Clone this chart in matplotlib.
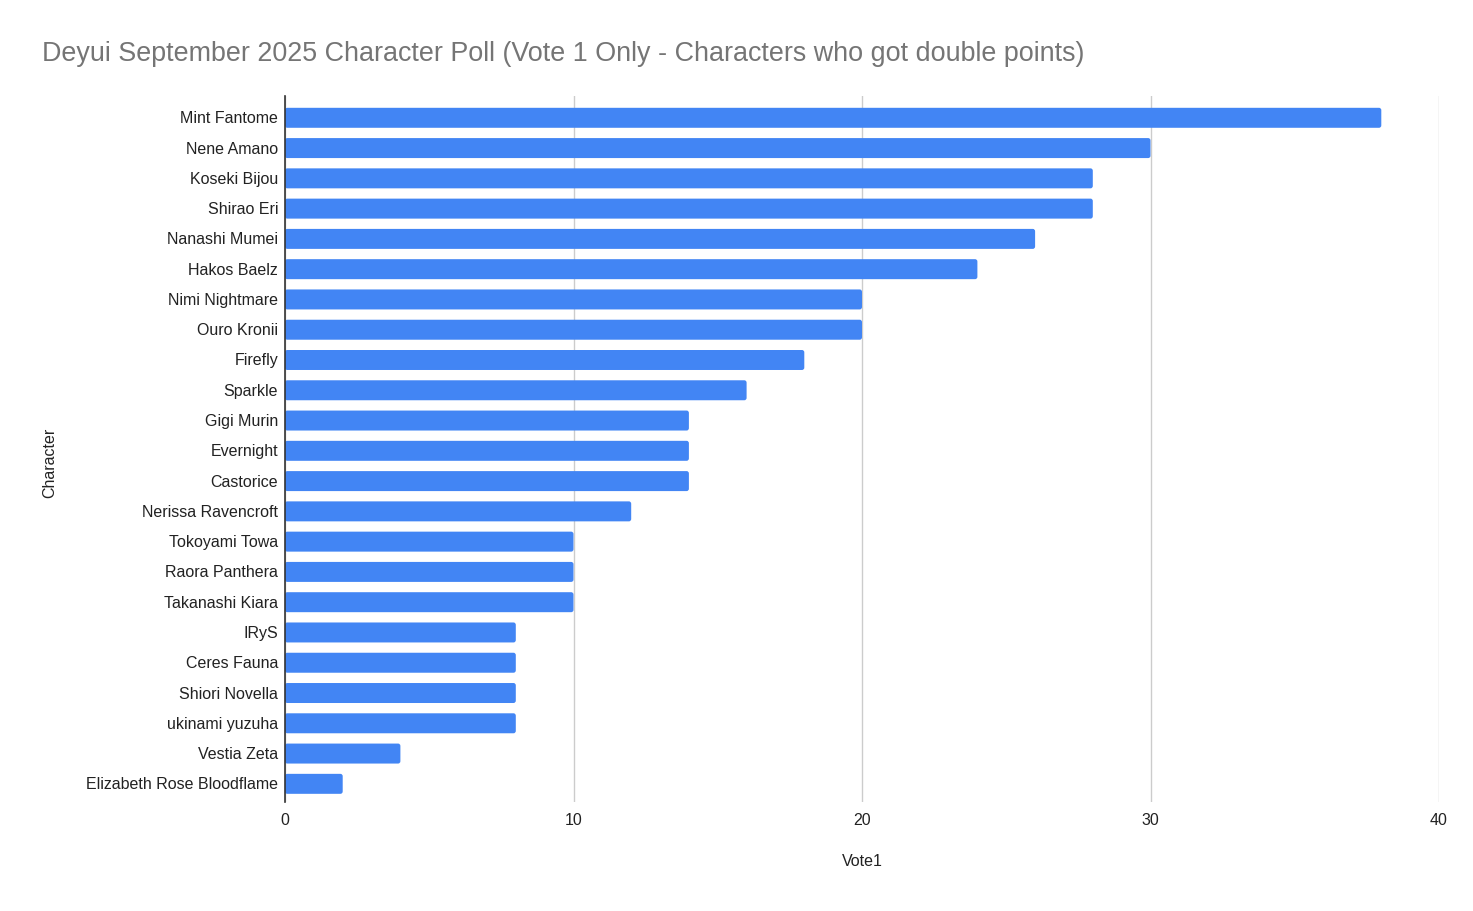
import matplotlib
matplotlib.use("Agg")
import matplotlib.pyplot as plt
from matplotlib.patches import FancyBboxPatch
from matplotlib.transforms import ScaledTranslation

characters = ["Mint Fantome", "Nene Amano", "Koseki Bijou", "Shirao Eri", "Nanashi Mumei",
              "Hakos Baelz", "Nimi Nightmare", "Ouro Kronii", "Firefly", "Sparkle",
              "Gigi Murin", "Evernight", "Castorice", "Nerissa Ravencroft", "Tokoyami Towa",
              "Raora Panthera", "Takanashi Kiara", "IRyS", "Ceres Fauna", "Shiori Novella",
              "ukinami yuzuha", "Vestia Zeta", "Elizabeth Rose Bloodflame"]
votes = [38, 30, 28, 28, 26, 24, 20, 20, 18, 16, 14, 14, 14, 12, 10, 10, 10, 8, 8, 8, 8, 4, 2]
xticks = [0, 10, 20, 30, 40]

plt.rcParams['font.family'] = ['Liberation Sans', 'DejaVu Sans']

W, H = 1473, 912
fig = plt.figure(figsize=(W/100, H/100), dpi=100)
ax = fig.add_axes([285/W, 1-803/H, (1439-285)/W, (803-97)/H])

ypos = list(range(len(characters)))
bars = ax.barh(ypos, votes, height=0.66, color="#4285F4", zorder=3)
# replace with slightly rounded bars
for b in bars:
    x0, y0 = b.get_x(), b.get_y()
    w, h = b.get_width(), b.get_height()
    b.set_visible(False)
    p = FancyBboxPatch((x0, y0), w, h, boxstyle="round,pad=0,rounding_size=0.08",
                       facecolor="#4285F4", edgecolor="none", zorder=3)
    ax.add_patch(p)

ax.set_ylim(len(characters) - 1 + 0.6, -0.72)
ax.set_xlim(0, 40)
ax.set_xticks(xticks)
ax.set_yticks(ypos)
ax.set_yticklabels(characters)
ax.tick_params(axis='both', length=0, labelsize=11.5, colors="#222222")
ax.tick_params(axis='x', pad=7)
ax.tick_params(axis='y', pad=5)
for lbl in ax.get_yticklabels():
    lbl.set_transform(lbl.get_transform() + ScaledTranslation(0, 1.5/100, fig.dpi_scale_trans))
ax.grid(axis='x', color="#cccccc", linewidth=1, zorder=0)
for s in ['top', 'right', 'bottom']:
    ax.spines[s].set_visible(False)
ax.spines['left'].set_color("#333333")
ax.spines['left'].set_linewidth(1.2)
ax.spines['left'].set_zorder(4)

fig.text(42/W, 1-54/H, "Deyui September 2025 Character Poll (Vote 1 Only - Characters who got double points)",
         fontsize=19.4, color="#757575", ha='left', va='center')
fig.text(862/W, 1-862/H, "Vote1", fontsize=11.5, color="#222222", ha='center', va='center')
fig.text(50/W, 1-463/H, "Character", fontsize=11.5, color="#222222", ha='center', va='center', rotation=90)

fig.savefig("out.png", dpi=100)
